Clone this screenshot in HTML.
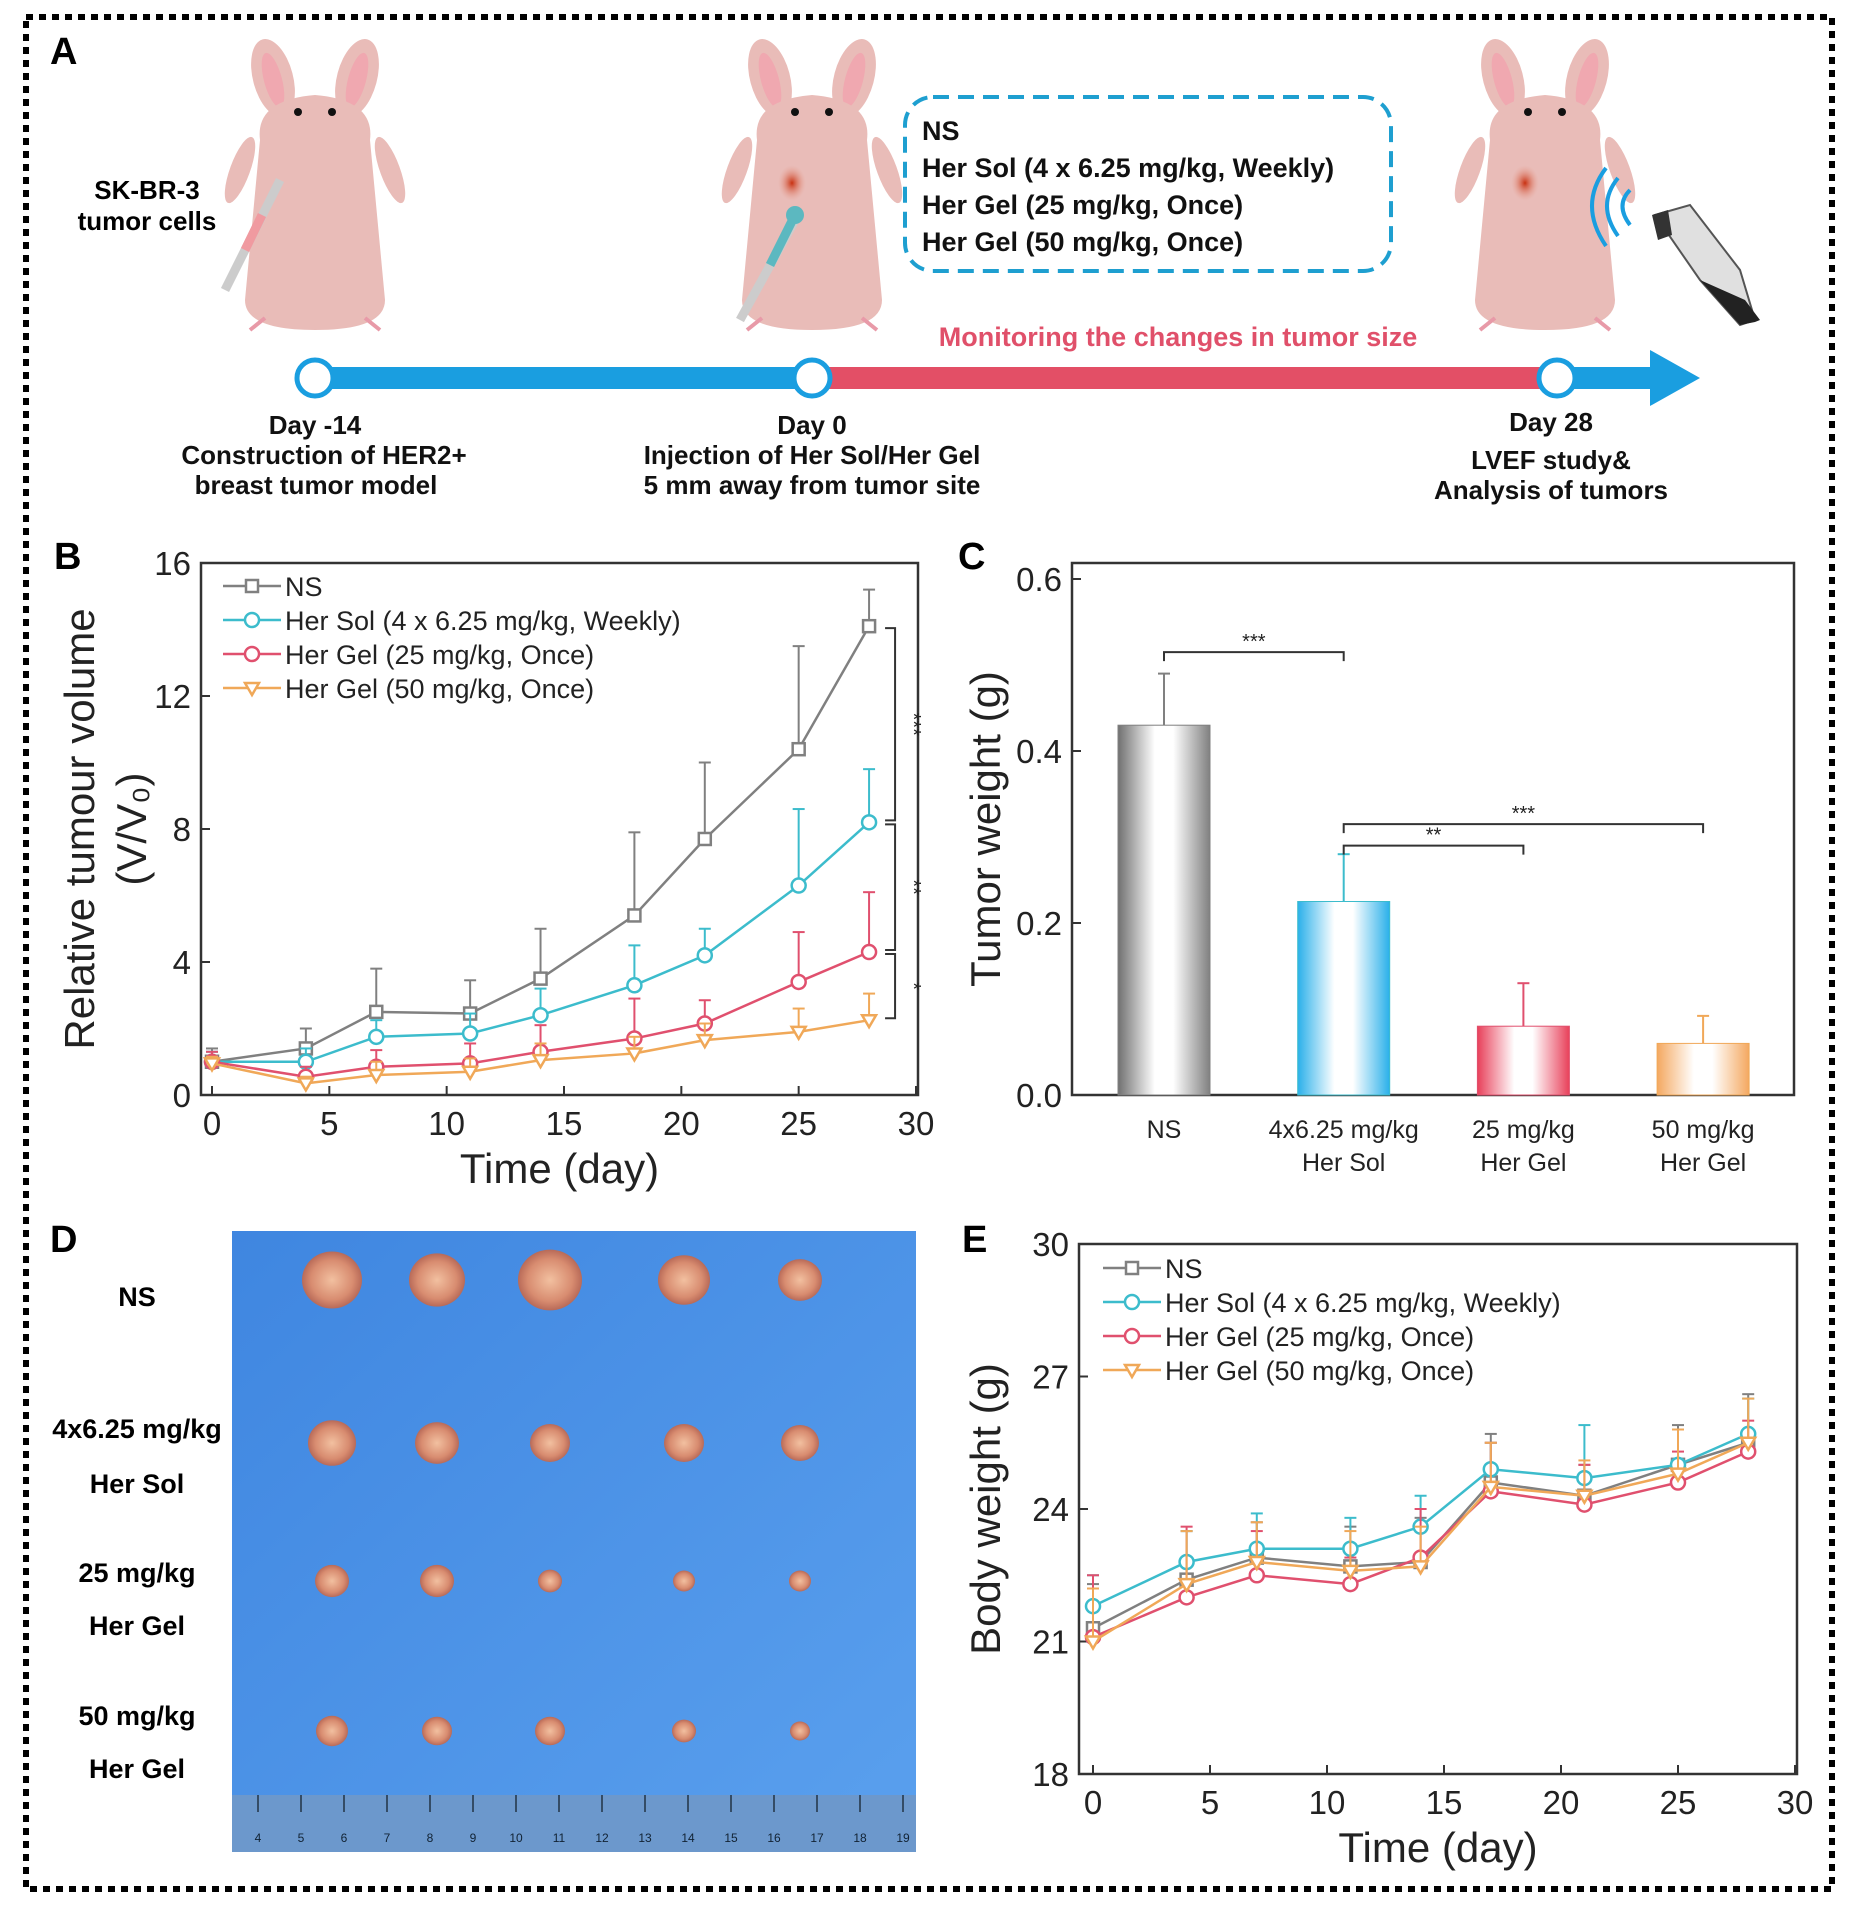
<!DOCTYPE html>
<html><head><meta charset="utf-8">
<style>
html,body{margin:0;padding:0;background:#fff;}
svg{display:block;font-family:"Liberation Sans",Arial,sans-serif;}
.b{font-weight:bold;}
</style></head>
<body>
<svg id="fig" width="1856" height="1915" viewBox="0 0 1856 1915">
<defs>
<linearGradient id="gNS" x1="0" x2="1"><stop offset="0" stop-color="#707070"/><stop offset="0.4" stop-color="#fff"/><stop offset="0.6" stop-color="#fff"/><stop offset="1" stop-color="#808080"/></linearGradient>
<linearGradient id="gSol" x1="0" x2="1"><stop offset="0" stop-color="#2ab0ea"/><stop offset="0.4" stop-color="#fff"/><stop offset="0.6" stop-color="#fff"/><stop offset="1" stop-color="#2ab0ea"/></linearGradient>
<linearGradient id="gG25" x1="0" x2="1"><stop offset="0" stop-color="#e8405a"/><stop offset="0.4" stop-color="#fff"/><stop offset="0.6" stop-color="#fff"/><stop offset="1" stop-color="#e8405a"/></linearGradient>
<linearGradient id="gG50" x1="0" x2="1"><stop offset="0" stop-color="#f4a860"/><stop offset="0.4" stop-color="#fff"/><stop offset="0.6" stop-color="#fff"/><stop offset="1" stop-color="#f4a860"/></linearGradient>
<linearGradient id="gPhoto" x1="0" x2="1" y1="0" y2="1"><stop offset="0" stop-color="#3f86e0"/><stop offset="1" stop-color="#5aa0ee"/></linearGradient>
<radialGradient id="gTum"><stop offset="0" stop-color="#f2c0a0"/><stop offset="0.7" stop-color="#d88c70"/><stop offset="1" stop-color="#b86a58"/></radialGradient>
<radialGradient id="gSpot"><stop offset="0" stop-color="#c83010"/><stop offset="1" stop-color="#e8a090" stop-opacity="0"/></radialGradient>
</defs>

<rect x="26" y="17" width="1806" height="1872" fill="none" stroke="#000" stroke-width="6" stroke-dasharray="7 6"/>

<text x="50" y="64" font-size="38" class="b">A</text>
<text x="54" y="569" font-size="38" class="b">B</text>
<text x="958" y="569" font-size="38" class="b">C</text>
<text x="50" y="1252" font-size="38" class="b">D</text>
<text x="962" y="1252" font-size="38" class="b">E</text>

<g id="panelA">
  <g id="mice"></g>
  <rect x="905" y="97" width="486" height="174" rx="28" fill="none" stroke="#1e9fd0" stroke-width="4" stroke-dasharray="16 9"/>
  <g font-size="27" class="b" fill="#111">
    <text x="922" y="140">NS</text>
    <text x="922" y="177">Her Sol (4 x 6.25 mg/kg, Weekly)</text>
    <text x="922" y="214">Her Gel (25 mg/kg, Once)</text>
    <text x="922" y="251">Her Gel (50 mg/kg, Once)</text>
  </g>
  <text x="1178" y="346" text-anchor="middle" font-size="27" class="b" fill="#e0506a">Monitoring the changes in tumor size</text>
  <text x="147" y="199" text-anchor="middle" font-size="26" class="b">SK-BR-3</text>
  <text x="147" y="230" text-anchor="middle" font-size="26" class="b">tumor cells</text>
  <rect x="315" y="367" width="500" height="22" fill="#1a9ee0"/>
  <rect x="812" y="367" width="745" height="22" fill="#e34f66"/>
  <rect x="1557" y="367" width="100" height="22" fill="#1a9ee0"/>
  <polygon points="1650,350 1700,378 1650,406" fill="#1a9ee0"/>
  <circle cx="315" cy="378" r="18" fill="#fff" stroke="#1a9ee0" stroke-width="5"/>
  <circle cx="812" cy="378" r="18" fill="#fff" stroke="#1a9ee0" stroke-width="5"/>
  <circle cx="1557" cy="378" r="18" fill="#fff" stroke="#1a9ee0" stroke-width="5"/>
  <g font-size="26" class="b" text-anchor="middle" fill="#111">
    <text x="315" y="434">Day -14</text>
    <text x="324" y="464">Construction of HER2+</text>
    <text x="316" y="494">breast tumor model</text>
    <text x="812" y="434">Day 0</text>
    <text x="812" y="464">Injection of Her Sol/Her Gel</text>
    <text x="812" y="494">5 mm away from tumor site</text>
    <text x="1551" y="431">Day 28</text>
    <text x="1551" y="469">LVEF study&amp;</text>
    <text x="1551" y="499">Analysis of tumors</text>
  </g>
  <g>
    <path d="M1655 215 L1690 205 L1740 270 L1755 320 L1740 325 L1700 280 Z" fill="#e0e0e0" stroke="#555" stroke-width="2"/>
    <path d="M1700 280 L1740 325 L1755 322 L1760 320 L1745 300 Z" fill="#222"/>
    <path d="M1652 215 L1668 210 L1672 235 L1658 240 Z" fill="#333"/>
    <path d="M1630 190 Q1615 205 1630 225" fill="none" stroke="#1a9ee0" stroke-width="4"/>
    <path d="M1618 178 Q1596 205 1618 236" fill="none" stroke="#1a9ee0" stroke-width="4"/>
    <path d="M1606 168 Q1578 205 1606 246" fill="none" stroke="#1a9ee0" stroke-width="4"/>
  </g>
</g>

<g id="panelD">
  <rect x="232" y="1231" width="684" height="621" fill="url(#gPhoto)"/>
  <rect x="232" y="1795" width="684" height="57" fill="#6c98cc"/>
  <g id="ruler"></g>
  <g id="tumors"></g>
  <g font-size="27" class="b" text-anchor="middle">
    <text x="137" y="1306">NS</text>
    <text x="137" y="1438">4x6.25 mg/kg</text>
    <text x="137" y="1493">Her Sol</text>
    <text x="137" y="1582">25 mg/kg</text>
    <text x="137" y="1635">Her Gel</text>
    <text x="137" y="1725">50 mg/kg</text>
    <text x="137" y="1778">Her Gel</text>
  </g>
</g>

<g id="chartB"></g>
<g id="chartC"></g>
<g id="chartE"></g>
</svg>

<script>
// ---------- Chart B data ----------
const bDays = [0,4,7,11,14,18,21,25,28];
const bNS    = [1.0,1.4,2.5,2.45,3.5,5.4,7.7,10.4,14.1];
const bNSErr = [0.4,0.6,1.3,1.0,1.5,2.5,2.3,3.1,1.1];
const bSol    = [1.0,1.0,1.75,1.85,2.4,3.3,4.2,6.3,8.2];
const bSolErr = [0.3,0.4,0.5,0.6,0.8,1.2,0.8,2.3,1.6];
const bG25    = [1.0,0.55,0.85,0.95,1.3,1.7,2.15,3.4,4.3];
const bG25Err = [0.3,0.3,0.5,0.6,0.8,1.2,0.7,1.5,1.8];
const bG50    = [0.95,0.35,0.6,0.7,1.05,1.25,1.65,1.9,2.25];
const bG50Err = [0.2,0.2,0.4,0.4,0.5,0.5,0.5,0.7,0.8];
const bXTicks = [0,5,10,15,20,25,30];
const bYTicks = [0,4,8,12,16];
// ---------- Chart C data ----------
const cCats = [["NS"],["4x6.25 mg/kg","Her Sol"],["25 mg/kg","Her Gel"],["50 mg/kg","Her Gel"]];
const cVals = [0.43,0.225,0.08,0.06];
const cErr  = [0.06,0.055,0.05,0.032];
const cYTicks = [0.0,0.2,0.4,0.6];
// ---------- Chart E data ----------
const eDays = [0,4,7,11,14,17,21,25,28];
const eNS    = [21.3,22.4,22.9,22.7,22.8,24.6,24.3,25.0,25.5];
const eNSErr = [1.0,1.1,0.8,0.9,1.0,1.1,0.7,0.9,1.1];
const eSol    = [21.8,22.8,23.1,23.1,23.6,24.9,24.7,25.0,25.7];
const eSolErr = [0.7,0.7,0.8,0.7,0.7,0.6,1.2,0.8,0.8];
const eG25    = [21.1,22.0,22.5,22.3,22.9,24.4,24.1,24.6,25.3];
const eG25Err = [1.4,1.6,1.0,0.6,1.1,1.1,0.9,0.7,0.7];
const eG50    = [21.0,22.3,22.8,22.6,22.7,24.5,24.3,24.8,25.5];
const eG50Err = [1.2,1.2,0.9,0.9,0.9,1.0,0.8,1.0,1.0];
const eXTicks = [0,5,10,15,20,25,30];
const eYTicks = [18,21,24,27,30];

const legendNames = ["NS","Her Sol (4 x 6.25 mg/kg, Weekly)","Her Gel (25 mg/kg, Once)","Her Gel (50 mg/kg, Once)"];
const colors = ["#808080","#3cbccc","#e0506e","#f0a858"];
const markers = ["square","circle","circle","tri"];

const NS = "http://www.w3.org/2000/svg";
function mk(parent, tag, attrs){
  const e = document.createElementNS(NS, tag);
  for (const k in attrs) e.setAttribute(k, attrs[k]);
  parent.appendChild(e);
  return e;
}
function txt(parent, x, y, s, size, anchor, extra){
  const t = mk(parent,'text',Object.assign({x:x,y:y,'font-size':size,'text-anchor':anchor||'start',fill:'#222'},extra||{}));
  t.textContent = s;
  return t;
}
function marker(g, type, x, y, color){
  let m;
  if (type==='square') m = mk(g,'rect',{x:x-6,y:y-6,width:12,height:12,fill:'#fff',stroke:color,'stroke-width':2.5});
  else if (type==='circle') m = mk(g,'circle',{cx:x,cy:y,r:7,fill:'#fff',stroke:color,'stroke-width':2.5});
  else m = mk(g,'polygon',{points:`${x-7},${y-5} ${x+7},${y-5} ${x},${y+7}`,fill:'#fff',stroke:color,'stroke-width':2.5});
  return m;
}

function lineChart(gid, box, xDom, yDom, days, series, errs, xTicks, yTicks, yTitle, legendPos){
  const g = document.getElementById(gid);
  const X = v => box.x0 + (v - xDom[0])/(xDom[1]-xDom[0])*(box.x1-box.x0);
  const Y = v => box.y0 - (v - yDom[0])/(yDom[1]-yDom[0])*(box.y0-box.y1);
  mk(g,'rect',{x:box.left,y:box.top,width:box.right-box.left,height:box.bottom-box.top,fill:'none',stroke:'#333','stroke-width':2.5});
  xTicks.forEach(t=>{
    const tk = mk(g,'line',{x1:X(t),x2:X(t),y1:box.bottom,y2:box.bottom-9,stroke:'#333','stroke-width':2});
    
    
    const lb = txt(g,X(t),box.bottom+40,String(t),33,'middle');
    
    
  });
  yTicks.forEach(t=>{
    const tk = mk(g,'line',{x1:box.left,x2:box.left+9,y1:Y(t),y2:Y(t),stroke:'#333','stroke-width':2});
    
    
    const lb = txt(g,box.left-10,Y(t)+12,String(t),33,'end');
    
    
  });
  const xt = txt(g,(box.left+box.right)/2,box.bottom+88,'Time (day)',42,'middle');
  
  
  yTitle.forEach((s,i)=>{
    const cx = box.titleX + i*52, cy=(box.top+box.bottom)/2;
    const yt = txt(g,cx,cy,s,42,'middle',{transform:`rotate(-90 ${cx} ${cy})`});
    
    
  });
  series.forEach((vals,si)=>{
    const sg = mk(g,'g',{});
    
    
    const c = colors[si];
    vals.forEach((v,i)=>{
      const x=X(days[i]), yv=Y(v), ye=Y(v+errs[si][i]);
      mk(sg,'line',{x1:x,x2:x,y1:yv,y2:ye,stroke:c,'stroke-width':2});
      mk(sg,'line',{x1:x-6,x2:x+6,y1:ye,y2:ye,stroke:c,'stroke-width':2});
    });
    const pl = mk(sg,'polyline',{points:vals.map((v,i)=>X(days[i])+','+Y(v)).join(' '),fill:'none',stroke:c,'stroke-width':2.5});
    
    
    vals.forEach((v,i)=>{
      const m = marker(sg,markers[si],X(days[i]),Y(v),c);
      
      
    });
  });
  legendNames.forEach((n,i)=>{
    const lg = mk(g,'g',{});
    
    
    const y = legendPos.y + i*legendPos.dy;
    mk(lg,'line',{x1:legendPos.x,x2:legendPos.x+58,y1:y,y2:y,stroke:colors[i],'stroke-width':2.5});
    marker(lg,markers[i],legendPos.x+29,y,colors[i]);
    txt(lg,legendPos.x+62,y+10,n,27,'start');
  });
  return {X,Y,g};
}

const B = lineChart('chartB',
  {left:201,right:918,top:563,bottom:1095,x0:212,x1:916,y0:1095,y1:563,titleX:94},
  [0,30],[0,16],bDays,[bNS,bSol,bG25,bG50],[bNSErr,bSolErr,bG25Err,bG50Err],
  bXTicks,bYTicks,['Relative tumour volume','(V/V₀)'],{x:223,y:586,dy:34});

(function(){
  const g=B.g, xr=B.X(28)+16, xb=xr+10;
  const last=[bNS[8],bSol[8],bG25[8],bG50[8]];
  const labs=['***','**','*'];
  for(let i=0;i<3;i++){
    const y1=B.Y(last[i])+2, y2=B.Y(last[i+1])-2;
    const br=mk(g,'path',{d:`M${xr} ${y1} H${xb} V${y2} H${xr}`,fill:'none',stroke:'#333','stroke-width':2});
    
    
    const cy=(y1+y2)/2, cx=xb+12;
    const st=txt(g,cx,cy,labs[i],20,'middle',{transform:`rotate(90 ${cx} ${cy})`});
    
    
  }
})();

const E = lineChart('chartE',
  {left:1079,right:1797,top:1244,bottom:1774,x0:1093,x1:1795,y0:1774,y1:1244,titleX:1000},
  [0,30],[18,30],eDays,[eNS,eSol,eG25,eG50],[eNSErr,eSolErr,eG25Err,eG50Err],
  eXTicks,eYTicks,['Body weight (g)'],{x:1103,y:1268,dy:34});

(function(){
  const g=document.getElementById('chartC');
  const box={left:1072,right:1794,top:563,bottom:1095};
  const y0=1095,y1=579;
  const Y=v=>y0-(v/0.6)*(y0-y1);
  const centers=i=>1164+i*179.7;
  mk(g,'rect',{x:box.left,y:box.top,width:box.right-box.left,height:box.bottom-box.top,fill:'none',stroke:'#333','stroke-width':2.5});
  cYTicks.forEach(t=>{
    const tk=mk(g,'line',{x1:box.left,x2:box.left+9,y1:Y(t),y2:Y(t),stroke:'#333','stroke-width':2});
    
    
    const lb=txt(g,box.left-10,Y(t)+12,t.toFixed(1),33,'end');
    
    
  });
  const cx=1000, cy=(box.top+box.bottom)/2;
  const yt=txt(g,cx,cy,'Tumor weight (g)',42,'middle',{transform:`rotate(-90 ${cx} ${cy})`});
  
  
  const fills=['url(#gNS)','url(#gSol)','url(#gG25)','url(#gG50)'];
  cVals.forEach((v,i)=>{
    const x=centers(i), w=92, c=colors[i];
    const top=Y(v+cErr[i]);
    mk(g,'line',{x1:x,x2:x,y1:Y(v),y2:top,stroke:c,'stroke-width':2});
    mk(g,'line',{x1:x-6,x2:x+6,y1:top,y2:top,stroke:c,'stroke-width':2});
    const r=mk(g,'rect',{x:x-w/2,y:Y(v),width:w,height:Y(0)-Y(v),fill:fills[i],stroke:c,'stroke-width':1});
    
    
    cCats[i].forEach((s,j)=>{
      const lb=txt(g,x,1138+j*33,s,25,'middle');
      
      
    });
  });
  const brs=[[0,1,0.515,'***'],[1,3,0.315,'***'],[1,2,0.29,'**']];
  brs.forEach(b=>{
    const xa=centers(b[0]), xb=centers(b[1]), y=Y(b[2]);
    const p=mk(g,'path',{d:`M${xa} ${y+9} V${y} H${xb} V${y+9}`,fill:'none',stroke:'#333','stroke-width':2});
    
    
    const st=txt(g,(xa+xb)/2,y-4,b[3],20,'middle');
    
    
  });
})();

(function(){
  const g=document.getElementById('mice');
  [[315,false],[812,true],[1545,true]].forEach((m,i)=>{
    const cx=m[0];
    const mg=mk(g,'g',{});
    
    
    const pink='#e9bcb8';
    mk(mg,'ellipse',{cx:cx-42,cy:78,rx:20,ry:40,fill:pink,transform:`rotate(-15 ${cx-42} 78)`});
    mk(mg,'ellipse',{cx:cx+42,cy:78,rx:20,ry:40,fill:pink,transform:`rotate(15 ${cx+42} 78)`});
    mk(mg,'ellipse',{cx:cx-42,cy:80,rx:9,ry:28,fill:'#f0a8b0',transform:`rotate(-15 ${cx-42} 80)`});
    mk(mg,'ellipse',{cx:cx+42,cy:80,rx:9,ry:28,fill:'#f0a8b0',transform:`rotate(15 ${cx+42} 80)`});
    mk(mg,'path',{d:`M${cx-55} 140 Q${cx-60} 100 ${cx} 95 Q${cx+60} 100 ${cx+55} 140 L${cx+70} 300 Q${cx+70} 330 ${cx} 330 Q${cx-70} 330 ${cx-70} 300 Z`,fill:pink});
    mk(mg,'ellipse',{cx:cx-75,cy:170,rx:10,ry:35,fill:pink,transform:`rotate(20 ${cx-75} 170)`});
    mk(mg,'ellipse',{cx:cx+75,cy:170,rx:10,ry:35,fill:pink,transform:`rotate(-20 ${cx+75} 170)`});
    mk(mg,'circle',{cx:cx-17,cy:112,r:4,fill:'#111'});
    mk(mg,'circle',{cx:cx+17,cy:112,r:4,fill:'#111'});
    mk(mg,'path',{d:`M${cx-50} 318 l-15 12 M${cx+50} 318 l15 12`,stroke:'#e89aa8','stroke-width':4});
    if(m[1]) mk(mg,'ellipse',{cx:cx-20,cy:183,rx:14,ry:18,fill:'url(#gSpot)'});
  });
  mk(g,'line',{x1:280,y1:180,x2:225,y2:290,stroke:'#ccc','stroke-width':9});
  mk(g,'line',{x1:262,y1:215,x2:245,y2:250,stroke:'#f09aa0','stroke-width':9});
  mk(g,'line',{x1:795,y1:220,x2:740,y2:320,stroke:'#ccc','stroke-width':9});
  mk(g,'line',{x1:795,y1:215,x2:770,y2:265,stroke:'#5cb8c0','stroke-width':9});
  mk(g,'circle',{cx:795,cy:215,r:9,fill:'#5cb8c0'});
})();

(function(){
  const g=document.getElementById('tumors');
  const cols=[332,437,550,684,800];
  const rows=[1280,1443,1581,1731];
  const sizes=[[30,28,32,26,22],[24,22,20,20,19],[17,17,12,11,11],[16,15,15,12,10]];
  rows.forEach((y,r)=>cols.forEach((x,c)=>{
    const s=sizes[r][c];
    const t=mk(g,'ellipse',{cx:x,cy:y,rx:s,ry:s*0.95,fill:'url(#gTum)'});
    
    
  }));
  const rg=document.getElementById('ruler');
  for(let i=0;i<16;i++){
    const x=258+i*43;
    mk(rg,'line',{x1:x,x2:x,y1:1795,y2:1812,stroke:'#234','stroke-width':1.5});
    txt(rg,x,1842,String(4+i),12,'middle',{fill:'#123'});
  }
})();
</script>
</body></html>
